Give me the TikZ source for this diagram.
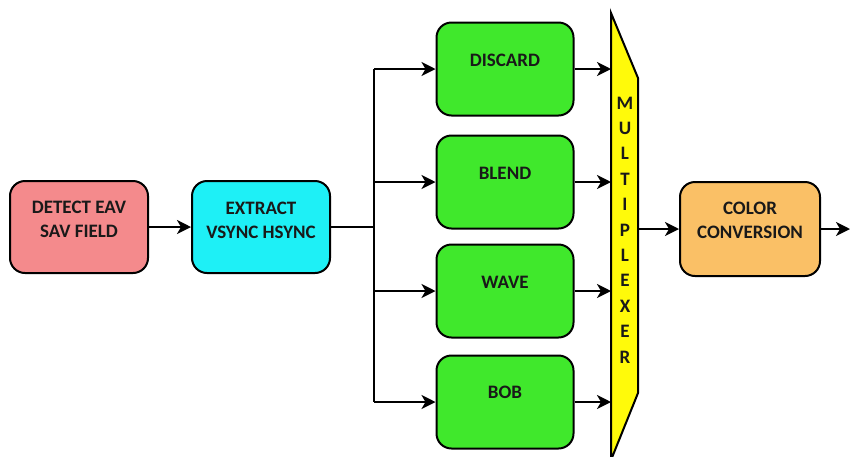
\documentclass[tikz,border=0pt]{standalone}
\usepackage{fontspec}
\setmainfont{Carlito}
\usepackage{xcolor}
\usetikzlibrary{arrows.meta,positioning,calc}

\definecolor{detectred}{RGB}{244,138,140}
\definecolor{extractcyan}{RGB}{30,240,246}
\definecolor{modegreen}{RGB}{64,232,44}
\definecolor{muxyellow}{RGB}{255,250,10}
\definecolor{colororange}{RGB}{250,192,102}

\tikzset{
  blk/.style={draw, line width=2pt, rounded corners=15pt, minimum width=138pt, minimum height=92pt},
  blktext/.style={font=\fontsize{19}{24}\selectfont\bfseries, align=center, text=black!90},
  flow/.style={line width=2.2pt, -{Stealth[length=14pt,width=14pt,inset=4pt]}},
  wire/.style={line width=2.2pt}
}

\begin{document}
\begin{tikzpicture}[x=1pt, y=-1pt]
  \useasboundingbox (0,0) rectangle (850,456);

  % Input stages
  \node[blk, fill=detectred] (detect) at (79,227) {};
  \node[blktext] (detect-txt) at (79,219) {DETECT EAV\\SAV FIELD};
  \node[blk, fill=extractcyan] (extract) at (261,227) {};
  \node[blktext] (extract-txt) at (261,220) {EXTRACT\\VSYNC HSYNC};

  % Deinterlacing modes
  \node[blk, fill=modegreen, minimum width=137pt, minimum height=93pt] (discard) at (505,69) {};
  \node[blktext] (discard-txt) at (505,60) {DISCARD};
  \node[blk, fill=modegreen, minimum width=137pt, minimum height=93pt] (blend) at (505,182) {};
  \node[blktext] (blend-txt) at (505,173) {BLEND};
  \node[blk, fill=modegreen, minimum width=137pt, minimum height=93pt] (wave) at (505,291) {};
  \node[blktext] (wave-txt) at (505,282) {WAVE};
  \node[blk, fill=modegreen, minimum width=137pt, minimum height=93pt] (bob) at (505,402) {};
  \node[blktext] (bob-txt) at (505,392) {BOB};

  % Multiplexer
  \draw[line width=2pt, fill=muxyellow] (611,13) -- (638,78) -- (638,393) -- (611,460) -- cycle;
  \coordinate (muxin) at (611,0);
  \coordinate (muxout) at (638,229);
  \foreach \ch [count=\i from 0] in {M,U,L,T,I,P,L,E,X,E,R}
    \node[blktext] (mux-\i) at (625,103+25.4*\i) {\ch};

  % Output stage
  \node[blk, fill=colororange, minimum width=140pt, minimum height=94pt] (color) at (750,229) {};
  \node[blktext] (color-txt) at (750,220) {COLOR\\CONVERSION};
  \coordinate (out) at (850,229);

  % Connections
  \coordinate (bus) at (374,227);
  \draw[flow] (detect) -- (extract);
  \draw[wire] (extract.east) -- (bus);
  \draw[wire] (bus |- discard.west) -- (bus |- bob.west);
  \foreach \m in {discard,blend,wave,bob} {
    \draw[flow] (bus |- \m.west) -- (\m.west);
    \draw[flow] (\m.east) -- (\m.east -| muxin);
  }
  \draw[flow] (muxout) -- (color.west);
  \draw[flow] (color.east) -- (out);
\end{tikzpicture}
\end{document}
